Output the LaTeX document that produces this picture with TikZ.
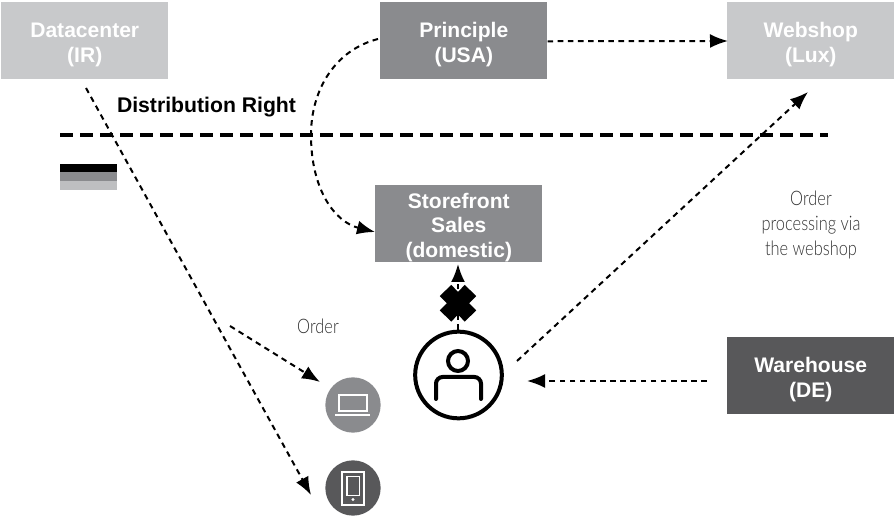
\documentclass[tikz,border=0pt]{standalone}
\usepackage{fontspec}
\setmainfont{Liberation Sans}
\newfontfamily\lightfont[FakeStretch=0.82]{Lato Light}
\usetikzlibrary{arrows.meta}
\definecolor{lightbox}{HTML}{C8C9CB}
\definecolor{midbox}{HTML}{8A8B8E}
\definecolor{darkbox}{HTML}{58585A}
\newcommand\lowerline{\rule{0pt}{17pt}}
\tikzset{
  x=0.75pt,y=-0.75pt,
  box/.style={fill=#1,text=white,font=\fontsize{15.8}{18.5}\selectfont\bfseries,align=center,minimum width=125.25pt,minimum height=57.75pt,inner sep=0pt,anchor=north west},
  link/.style={line width=1.5pt,dash pattern=on 4.2pt off 3.4pt,-{Latex[length=13.5pt,width=10.5pt]}},
  note/.style={font=\lightfont\fontsize{15}{18.5}\selectfont,text=black!80,align=center,inner sep=0pt},
  disc/.style={circle,minimum size=41.5pt,inner sep=0pt},
  icon/.style={draw=white,line width=1.5pt},
  person/.style={line width=3pt,draw=black}
}
\begin{document}
\begin{tikzpicture}
\useasboundingbox (0,0) rectangle (894,516);
\node[box=lightbox] (datacenter) at (1,2) {\lowerline Datacenter\\(IR)};
\node[box=midbox] (principle) at (380,2) {\lowerline Principle\\(USA)};
\node[box=lightbox] (webshop) at (727,2) {\lowerline Webshop\\(Lux)};
\node[box=midbox] (storefront) at (375,185) {\lowerline Storefront\\Sales\\(domestic)};
\node[box=darkbox] (warehouse) at (727,337) {\lowerline Warehouse\\(DE)};
\node[font=\fontsize{15.9}{18}\selectfont\bfseries,inner sep=0pt] (right) at (206.5,107.5) {Distribution Right};
\coordinate (ruleA) at (60,135);
\coordinate (ruleB) at (828,135);
\draw[line width=3pt,dash pattern=on 9.5pt off 5.5pt] (ruleA) -- (ruleB);
\fill[black] (60,164) rectangle (117,172);
\fill[midbox] (60,172) rectangle (117,181);
\fill[lightbox!95!black] (60,181) rectangle (117,190);
\node[note] (ordertext) at (318,326.5) {Order};
\node[note] (viatext) at (811,225) {Order\\processing via\\the webshop};
% laptop
\node[disc,fill=midbox] (laptop) at (353,405) {};
\draw[icon] (339,395) rectangle (367,411);
\draw[icon] (335,415.5) -- (370,415.5);
% tablet
\node[disc,fill=darkbox] (tablet) at (353,488) {};
\draw[icon] (341.7,471.7) rectangle (364.3,505);
\draw[icon,line width=1.2pt] (346.7,476.7) rectangle (359.3,495.7);
\fill[white] (353,499.6) circle (1.6);
% person
\node[circle,draw=black,line width=3pt,minimum size=65pt,inner sep=0pt] (user) at (458.5,375) {};
\draw[person] (458,361) circle (10);
\draw[person,line cap=round,rounded corners=5pt] (436,399) -- (436,377) -- (481,377) -- (481,399);
% free ends
\coordinate (dcstart) at (86,88);
\coordinate (ordstart) at (230,326);
\coordinate (ordend) at (320,382);
\coordinate (tabend) at (311,495);
\coordinate (prstart) at (378,39);
\coordinate (stend) at (375,232);
\coordinate (bend) at (311,135);
\coordinate (userout) at (517,361);
\coordinate (webin) at (808,92);
\coordinate (whstart) at (707,381);
\coordinate (whend) at (527,381);
\coordinate (userup) at (458,330);
\coordinate (stbottom) at (458,264);
% connectors
\draw[link] (principle.east) ++(0,0.5) -- ([xshift=0.75pt]webshop.west |- 0,41);
\draw[link] (dcstart) -- (tabend);
\draw[link] (ordstart) -- (ordend);
\draw[link] (prstart) .. controls (335,50) and (311,90) .. (bend) .. controls (311,190) and (335,222) .. (stend);
\draw[link] (userout) -- (webin);
\draw[link] (whstart) -- (whend);
\draw[link] (userup) -- (stbottom);
% cross
\draw[line width=12pt] (445.5,290.5) -- (470.5,316);
\draw[line width=12pt] (445.5,316) -- (470.5,290.5);
\end{tikzpicture}
\end{document}
